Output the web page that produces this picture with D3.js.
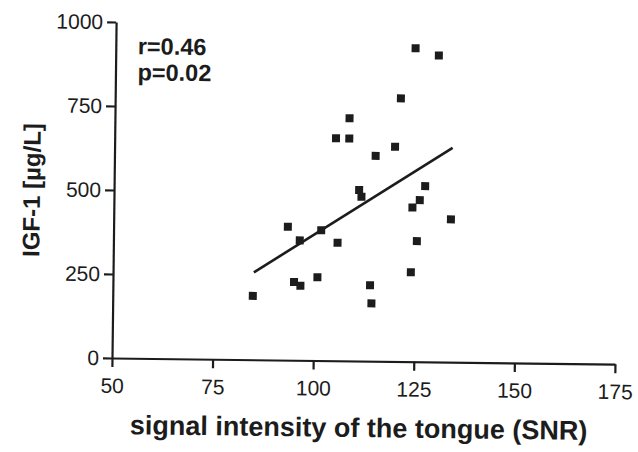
<!DOCTYPE html>
<html>
<head>
<meta charset="utf-8">
<script src="https://cdn.jsdelivr.net/npm/d3@7"></script>
<style>
  html, body { margin: 0; padding: 0; background: #fff; }
  svg { display: block; }
</style>
</head>
<body>
<svg id="chart" width="638" height="452"></svg>
<script>
// ---- data ----
const snr  = [124.5, 130.3, 121.0, 108.3, 105.0, 108.3, 119.7, 114.9, 127.3, 110.9, 111.5, 126.0, 124.2,
              133.8, 93.3, 101.6, 96.3, 105.7, 125.4, 124.0, 95.0, 96.6, 100.8, 113.9, 114.3, 84.8];
const igf1 = [933, 912, 783, 722, 662, 662, 639, 611, 523, 509, 489, 481, 459,
              425, 397, 388, 357, 351, 359, 266, 233, 222, 248, 226, 172, 190];
const fitX = [85, 134];
const fitY = [260, 638];
const xTicks = [50, 75, 100, 125, 150, 175];
const yTicks = [0, 250, 500, 750, 1000];
const statsText = ["r=0.46", "p=0.02"];
const xTitle = "signal intensity of the tongue (SNR)";
const yTitle = "IGF-1 [µg/L]";

// ---- layout ----
const mLeft = 112, mRight = 615, mTop = 22, mBottom = 358;
const ink = "#1c1c1c";
const font = "'Liberation Sans', Arial, Helvetica, sans-serif";

const svg = d3.select("#chart");
// the scanned figure is slightly tilted
const g = svg.append("g").attr("transform", `rotate(0.7, ${mLeft}, ${mBottom})`);

const x = d3.scaleLinear().domain([50, 175]).range([mLeft, mRight]);
const y = d3.scaleLinear().domain([0, 1000]).range([mBottom, mTop]);

const xAxis = g.append("g")
  .attr("transform", `translate(0,${mBottom})`)
  .call(d3.axisBottom(x).tickValues(xTicks).tickFormat(d3.format("d"))
        .tickSize(9).tickPadding(11).tickSizeOuter(0));
const yAxis = g.append("g")
  .attr("transform", `translate(${mLeft},0)`)
  .call(d3.axisLeft(y).tickValues(yTicks).tickFormat(d3.format("d"))
        .tickSize(9).tickPadding(4).tickSizeOuter(0));

[xAxis, yAxis].forEach(a => {
  a.select(".domain").attr("stroke", ink).attr("stroke-width", 2.2);
  a.selectAll(".tick line").attr("stroke", ink).attr("stroke-width", 2.2);
  a.selectAll(".tick text").attr("fill", ink).style("font-family", font).style("font-size", "21px");
});

// regression line
g.append("line")
  .attr("x1", x(fitX[0])).attr("y1", y(fitY[0]))
  .attr("x2", x(fitX[1])).attr("y2", y(fitY[1]))
  .attr("stroke", ink).attr("stroke-width", 2.6);

// points
const s = 8;
g.selectAll("rect.pt").data(snr.map((v, i) => [v, igf1[i]])).join("rect")
  .attr("class", "pt")
  .attr("x", d => x(d[0]) - s / 2)
  .attr("y", d => y(d[1]) - s / 2)
  .attr("width", s).attr("height", s)
  .attr("fill", ink);

// stats annotation
g.selectAll("text.stat").data(statsText).join("text")
  .attr("class", "stat")
  .attr("x", 134)
  .attr("y", (d, i) => 54 + i * 26)
  .attr("fill", ink)
  .style("font-family", font).style("font-weight", "bold").style("font-size", "23.5px")
  .text(d => d);

// axis titles
g.append("text")
  .attr("x", (mLeft + mRight) / 2 - 4).attr("y", 434)
  .attr("text-anchor", "middle")
  .attr("fill", ink)
  .style("font-family", font).style("font-weight", "bold").style("font-size", "27px")
  .text(xTitle);

g.append("text")
  .attr("transform", `translate(38, ${(mTop + mBottom) / 2 + 1}) rotate(-90)`)
  .attr("text-anchor", "middle")
  .attr("fill", ink)
  .style("font-family", font).style("font-weight", "bold").style("font-size", "24px")
  .text(yTitle);
</script>
</body>
</html>
